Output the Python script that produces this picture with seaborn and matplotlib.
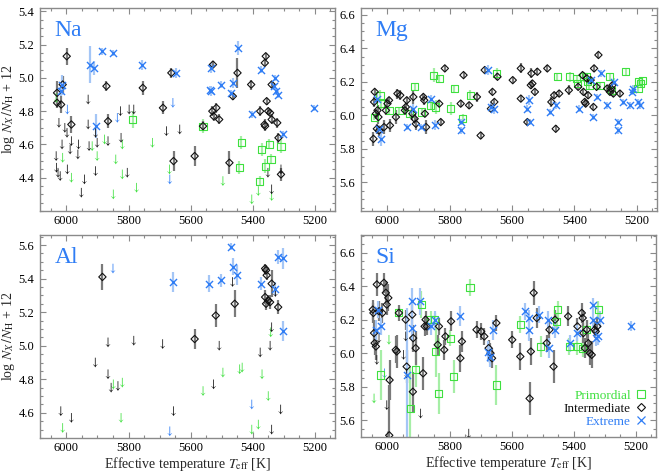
import numpy as np
import pandas as pd
import matplotlib
matplotlib.use("Agg")
import matplotlib.pyplot as plt
from matplotlib.ticker import MultipleLocator
from matplotlib.lines import Line2D
import seaborn as sns

# ---------------- data: (Teff, value, error) for detections, (Teff, value) for upper limits
NA_PRIM = [(5786,4.75,0.05),(5560,4.71,0.04),(5437,4.61,0.04),(5443,4.46,0.04),(5371,4.57,0.04),
           (5378,4.38,0.03),(5347,4.60,0.03),(5360,4.47,0.04),(5341,4.51,0.03),(5309,4.59,0.04)]
NA_PRIM_UL = [(6033,4.88),(6012,4.52),(5984,4.40),(5917,4.59),(5901,4.53),(5877,4.63),(5849,4.30),
              (5841,4.51),(5820,4.42),(5820,4.60),(5774,4.34),(5723,4.61),(5668,4.45),(5496,4.38),
              (5403,4.27),(5382,4.32),(5339,4.29)]
NA_INT = [(5999,5.13,0.05),(6030,4.91,0.07),(6017,4.84,0.05),(6012,4.96,0.05),(5984,4.72,0.05),
          (5871,4.95,0.03),(5866,4.74,0.04),(5754,4.94,0.04),(5689,4.82,0.04),(5662,5.03,0.03),
          (5655,4.50,0.06),(5587,4.53,0.06),(5560,4.71,0.03),(5528,5.08,0.02),(5530,4.80,0.03),
          (5526,4.77,0.03),(5517,4.82,0.03),(5508,4.75,0.03),(5464,4.89,0.02),(5449,5.03,0.09),
          (5475,4.49,0.07),(5405,4.96,0.03),(5376,4.80,0.03),(5362,4.72,0.03),(5360,4.71,0.03),
          (5361,5.09,0.02),(5358,5.13,0.02),(5355,4.86,0.02),(5350,4.80,0.02),(5344,4.79,0.02),
          (5339,4.75,0.03),(5339,4.96,0.02),(5321,4.73,0.03),(5317,4.64,0.03),(5309,4.42,0.04),
          (6030,4.85,0.03)]
NA_INT_UL = [(6033,4.53),(6032,4.46),(6027,4.43),(6020,4.41),(6024,4.73),(6014,4.60),(6005,4.70),
             (5998,4.67),(5988,4.57),(5984,4.62),(5963,4.54),(5961,4.60),(5997,4.45),(5942,4.39),
             (5952,4.31),(5930,4.87),(5930,4.72),(5927,4.59),(5906,4.67),(5906,4.44),(5901,4.61),
             (5866,4.62),(5826,4.80),(5824,4.64),(5804,4.43),(5798,4.81),(5783,4.81),(5678,4.68),
             (5635,4.69),(5351,4.43),(5339,4.33),(5309,4.45)]
NA_EXT = [(6013,4.96,0.06),(5924,5.08,0.11),(5911,5.06,0.04),(5884,5.16,0.02),(5849,5.15,0.02),
          (5756,5.08,0.03),(5647,5.03,0.03),(5906,4.71,0.07),(5535,5.06,0.03),(5539,4.93,0.02),
          (5533,4.92,0.03),(5503,4.96,0.02),(5465,4.97,0.03),(5471,4.91,0.02),(5448,5.18,0.04),
          (5403,4.78,0.02),(5374,5.05,0.02),(5327,5.00,0.02),(5330,4.95,0.02),(5325,4.92,0.02),
          (5318,4.90,0.02),(5304,4.66,0.02),(5202,4.82,0.02),(6018,4.92,0.03)]
NA_EXT_UL = [(5997,4.81),(5836,4.76),(5657,4.85),(5667,4.39)]

MG_PRIM = [(6043,5.99,0.02),(6024,6.12,0.03),(6021,6.07,0.03),(5995,6.03,0.02),(5963,6.03,0.02),
           (5928,6.01,0.02),(5913,6.17,0.02),(5890,6.02,0.02),(5861,6.06,0.03),(5852,6.24,0.04),
           (5845,6.05,0.04),(5834,6.22,0.02),(5797,6.04,0.04),(5786,6.16,0.02),(5759,5.98,0.03),
           (5734,6.12,0.03),(5649,6.25,0.03),(5455,6.23,0.02),(5415,6.23,0.03),(5393,6.22,0.02),
           (5389,6.19,0.02),(5370,6.23,0.03),(5361,6.23,0.02),(5357,6.20,0.02),(5353,6.18,0.02),
           (5318,6.18,0.02),(5286,6.23,0.02),(5282,6.15,0.02),(5235,6.26,0.02),(5196,6.16,0.02),
           (5193,6.20,0.02),(5187,6.19,0.02),(5182,6.21,0.02)]
MG_INT = [(6045,5.86,0.04),(6043,6.08,0.03),(6041,6.14,0.02),(6037,6.01,0.03),(6034,5.92,0.03),
          (6032,6.03,0.03),(6027,5.91,0.03),(6029,5.99,0.04),(6011,5.93,0.04),(6005,6.03,0.03),
          (6000,6.07,0.03),(5995,6.09,0.02),(5992,5.94,0.04),(5973,5.99,0.04),(5968,6.13,0.03),
          (5959,6.12,0.03),(5944,6.03,0.03),(5941,6.05,0.03),(5938,6.09,0.02),(5920,6.01,0.04),
          (5917,6.11,0.04),(5913,5.98,0.03),(5909,5.95,0.04),(5885,6.11,0.02),(5882,6.09,0.03),
          (5880,6.01,0.02),(5876,5.93,0.04),(5834,6.07,0.02),(5829,5.96,0.02),(5816,6.28,0.02),
          (5765,6.07,0.02),(5756,6.24,0.02),(5738,6.06,0.02),(5713,6.11,0.03),(5701,5.88,0.02),
          (5688,6.27,0.02),(5663,6.14,0.02),(5668,6.04,0.02),(5657,6.08,0.02),(5647,6.23,0.02),
          (5598,6.21,0.02),(5572,6.28,0.03),(5572,6.10,0.02),(5551,5.96,0.02),(5540,6.18,0.02),
          (5538,6.25,0.03),(5535,6.19,0.02),(5527,6.14,0.02),(5519,6.26,0.02),(5487,6.28,0.02),
          (5474,6.08,0.03),(5465,6.12,0.02),(5460,5.92,0.02),(5449,6.13,0.02),(5418,6.15,0.03),
          (5388,6.17,0.02),(5374,6.24,0.02),(5371,6.14,0.02),(5367,6.08,0.02),(5364,6.07,0.02),
          (5360,6.22,0.02),(5356,6.12,0.02),(5348,6.21,0.02),(5339,6.05,0.02),(5337,6.28,0.02),
          (5329,6.17,0.02),(5323,6.36,0.02),(5295,6.16,0.02),(5286,6.14,0.02),(5282,6.16,0.02),
          (5278,6.18,0.02),(5275,6.13,0.02),(5254,6.13,0.02)]
MG_EXT = [(6034,6.10,0.03),(6027,5.92,0.02),(6021,5.86,0.04),(5936,5.93,0.02),(5917,6.04,0.03),
          (5893,5.93,0.02),(5861,6.10,0.02),(5848,5.94,0.03),(5765,5.96,0.02),(5763,5.91,0.02),
          (5679,6.27,0.03),(5668,6.05,0.03),(5657,6.04,0.03),(5551,6.04,0.02),(5545,6.09,0.03),
          (5542,5.96,0.02),(5480,6.02,0.02),(5459,6.06,0.02),(5385,6.04,0.02),(5348,6.21,0.02),
          (5339,5.99,0.02),(5316,6.25,0.02),(5329,6.11,0.02),(5297,6.06,0.02),(5272,6.20,0.02),
          (5261,5.91,0.02),(5261,5.96,0.02),(5245,6.08,0.02),(5223,6.06,0.02),(5215,6.14,0.02),
          (5212,6.16,0.02),(5196,6.08,0.02),(5189,6.06,0.02)]

AL_PRIM_UL = [(6012,4.51),(5849,4.77),(5820,4.78),(5824,4.57),(5560,4.73),(5496,4.84),(5442,4.86),
              (5434,4.87),(5370,4.83),(5350,4.70),(5342,5.08),(5382,4.53),(5403,4.50)]
AL_INT = [(5884,5.41,0.08),(5587,5.04,0.06),(5519,5.18,0.07),(5458,5.25,0.08),(5360,5.46,0.03),
          (5357,5.45,0.03),(5355,5.42,0.03),(5350,5.27,0.03),(5360,5.29,0.04),(5357,5.25,0.04),
          (5344,5.26,0.04),(5339,5.37,0.08),(5318,5.23,0.04)]
AL_INT_UL = [(6018,4.61),(5984,4.57),(5907,4.90),(5866,5.02),(5866,4.83),(5856,4.75),(5834,4.76),
             (5783,5.03),(5690,5.01),(5655,4.61),(5526,4.77),(5508,5.00),(5465,5.38),(5376,4.96),
             (5344,5.00),(5339,5.11),(5327,5.32),(5310,4.62),(5339,4.50)]
AL_EXT = [(5470,5.59,0.02),(5658,5.38,0.06),(5542,5.37,0.05),(5502,5.39,0.04),(5465,5.47,0.05),
          (5449,5.42,0.06),(5374,5.37,0.04),(5327,5.34,0.04),(5318,5.53,0.04),(5302,5.52,0.06),
          (5304,5.09,0.06)]
AL_EXT_UL = [(5850,5.46),(5667,4.49),(5403,4.65)]

SI_PRIM = [(5963,6.24,0.03),(6021,5.87,0.15),(5927,5.67,0.25),(5909,5.90,0.10),(5891,6.29,0.08),
           (5861,6.20,0.05),(5848,6.20,0.04),(5845,6.01,0.15),(5834,5.76,0.12),(5797,6.09,0.05),
           (5786,5.86,0.10),(5734,6.39,0.05),(5649,5.81,0.12),(5572,6.17,0.05),(5506,6.04,0.06),
           (5451,6.26,0.05),(5455,6.19,0.05),(5415,6.04,0.05),(5388,6.04,0.05),(5371,6.03,0.05),
           (5358,6.14,0.06),(5321,6.26,0.05)]
SI_PRIM_UL = [(6043,5.73),(5995,6.08),(5834,6.06)]
SI_INT = [(6047,6.26,0.06),(6045,6.24,0.06),(6043,6.12,0.08),(6041,6.06,0.07),(6037,6.04,0.08),
          (6034,6.41,0.07),(6027,6.25,0.06),(6016,6.24,0.06),(6011,6.42,0.06),(6005,6.36,0.07),
          (6002,6.29,0.06),(5997,6.33,0.08),(5993,5.84,0.12),(5994,5.51,0.30),(5973,6.02,0.08),
          (5970,6.01,0.10),(5963,6.24,0.05),(5941,6.20,0.06),(5938,5.92,0.10),(5920,6.23,0.08),
          (5917,6.09,0.08),(5918,5.77,0.12),(5909,6.03,0.10),(5885,5.88,0.10),(5880,6.16,0.06),
          (5877,6.20,0.05),(5873,6.16,0.05),(5834,6.16,0.05),(5838,6.05,0.06),(5813,6.10,0.05),
          (5817,6.02,0.06),(5795,6.19,0.06),(5765,5.97,0.08),(5760,6.07,0.06),(5713,6.14,0.05),
          (5698,6.13,0.05),(5688,6.10,0.05),(5674,6.03,0.05),(5668,6.00,0.06),(5663,5.97,0.06),
          (5649,6.18,0.05),(5598,6.08,0.05),(5572,5.98,0.08),(5542,5.73,0.10),(5538,6.01,0.08),
          (5529,6.36,0.07),(5519,6.21,0.06),(5487,6.06,0.05),(5478,6.14,0.06),(5465,5.92,0.10),
          (5460,6.20,0.06),(5418,6.22,0.06),(5374,6.24,0.06),(5388,6.16,0.05),(5371,6.21,0.05),
          (5369,6.12,0.06),(5364,6.03,0.06),(5358,6.14,0.06),(5353,6.06,0.07),(5348,6.00,0.07),
          (5342,5.99,0.08),(5332,6.14,0.05),(5329,6.13,0.05),(5324,6.16,0.05)]
SI_INT_UL = [(6034,5.96),(6027,6.09),(6002,5.69),(5948,5.99),(5941,6.10),(5893,5.64),(5738,5.52),
             (5938,5.88)]
SI_EXT = [(6037,6.14,0.06),(6030,6.26,0.05),(6021,6.16,0.05),(5936,5.87,0.40),(5922,6.31,0.08),
          (5920,6.15,0.08),(5895,6.31,0.08),(5861,6.16,0.05),(5848,6.20,0.05),(5767,6.22,0.06),
          (5660,6.14,0.06),(5677,6.01,0.06),(5668,5.98,0.06),(5556,6.25,0.05),(5545,6.21,0.05),
          (5545,6.14,0.07),(5513,6.23,0.05),(5484,6.20,0.05),(5478,6.03,0.06),(5460,6.14,0.05),
          (5413,6.06,0.05),(5388,6.12,0.05),(5337,6.20,0.05),(5337,6.29,0.04),(5329,6.09,0.05),
          (5322,6.10,0.05),(5314,6.20,0.05),(5214,6.16,0.03)]
SI_EXT_UL = [(6009,5.88)]

ELEMENTS = ["Na", "Mg", "Al", "Si"]
YLIMS = [(4.2, 5.42), (5.43, 6.64), (4.45, 5.66), (5.5, 6.705)]
YTICKS = [[4.4, 4.6, 4.8, 5.0, 5.2, 5.4], [5.6, 5.8, 6.0, 6.2, 6.4, 6.6],
          [4.6, 4.8, 5.0, 5.2, 5.4, 5.6], [5.6, 5.8, 6.0, 6.2, 6.4, 6.6]]
XTICKS = [6000, 5800, 5600, 5400, 5200]
GROUPS = ["Primordial", "Intermediate", "Extreme"]

PANEL_DATA = {
    "Na": {"Primordial": (NA_PRIM, NA_PRIM_UL), "Intermediate": (NA_INT, NA_INT_UL), "Extreme": (NA_EXT, NA_EXT_UL)},
    "Mg": {"Primordial": (MG_PRIM, []), "Intermediate": (MG_INT, []), "Extreme": (MG_EXT, [])},
    "Al": {"Primordial": ([], AL_PRIM_UL), "Intermediate": (AL_INT, AL_INT_UL), "Extreme": (AL_EXT, AL_EXT_UL)},
    "Si": {"Primordial": (SI_PRIM, SI_PRIM_UL), "Intermediate": (SI_INT, SI_INT_UL), "Extreme": (SI_EXT, SI_EXT_UL)},
}

# ---------------- style
GREEN = "#3fe03f"
BLACK = "#111111"
BLUE = "#2f7df5"
COLORS = {"Primordial": GREEN, "Intermediate": BLACK, "Extreme": BLUE}
ERRCOL = {"Primordial": "#a6eea6", "Intermediate": "#7a7a7a", "Extreme": "#a4c6f6"}
MARK = {"Primordial": "s", "Intermediate": "D", "Extreme": "x"}
MSIZE = {"Primordial": 26, "Intermediate": 14, "Extreme": 26}
FRAME = "#8a8a8a"

sns.set_style("ticks")
plt.rcParams["font.family"] = ["Liberation Serif", "DejaVu Serif"]
plt.rcParams["mathtext.fontset"] = "stix"
plt.rcParams["font.size"] = 9

fig = plt.figure(figsize=(6.68, 4.72), dpi=100)
W, H = 668.0, 472.0
boxes = [(40, 8, 335, 211), (361, 8, 657, 211), (40, 235, 335, 438), (361, 235, 656, 437)]

for i, el in enumerate(ELEMENTS):
    l, t, r, b = boxes[i]
    ax = fig.add_axes([l / W, 1 - b / H, (r - l) / W, (b - t) / H])
    for g in GROUPS:
        det, ul = PANEL_DATA[el][g]
        if det:
            df = pd.DataFrame(det, columns=["teff", "val", "err"])
            ax.errorbar(df["teff"], df["val"], yerr=df["err"], fmt="none",
                        ecolor=ERRCOL[g], elinewidth=1.6, capsize=0, zorder=2)
        if ul:
            du = pd.DataFrame(ul, columns=["teff", "val"])
            sns.scatterplot(data=du, x="teff", y="val", ax=ax, marker=r"$\downarrow$",
                            s=48, color=COLORS[g], edgecolor="none", linewidth=0,
                            legend=False, zorder=3)
    for g in GROUPS:
        det, ul = PANEL_DATA[el][g]
        if det:
            df = pd.DataFrame(det, columns=["teff", "val", "err"])
            if MARK[g] == "x":
                sns.scatterplot(data=df, x="teff", y="val", ax=ax, marker="x", s=MSIZE[g],
                                color=COLORS[g], linewidth=1.0, legend=False, zorder=4)
            else:
                sns.scatterplot(data=df, x="teff", y="val", ax=ax, marker=MARK[g], s=MSIZE[g],
                                color=COLORS[g], facecolor="none", edgecolor=COLORS[g],
                                linewidth=0.8, legend=False, zorder=4)

    ax.set_xlim(6085, 5135)
    ax.set_ylim(*YLIMS[i])
    ax.set_xticks(XTICKS)
    ax.set_xticklabels([str(x) for x in XTICKS])
    ax.set_yticks(YTICKS[i])
    ax.set_yticklabels([f"{v:.1f}" for v in YTICKS[i]])
    ax.xaxis.set_minor_locator(MultipleLocator(50))
    ax.yaxis.set_minor_locator(MultipleLocator(0.05))
    ax.tick_params(which="both", direction="in", top=True, right=True, color=FRAME,
                   labelsize=9, labelcolor="black", width=0.8)
    ax.tick_params(which="major", length=4.5)
    ax.tick_params(which="minor", length=2.2)
    ax.tick_params(axis="x", which="major", pad=3)
    ax.tick_params(axis="y", which="major", pad=4)
    for sp in ax.spines.values():
        sp.set_color(FRAME)
        sp.set_linewidth(1.0)
    ax.set_xlabel("")
    ax.set_ylabel("")
    if i in (0, 2):
        ax.set_ylabel(r"log $N_X\,/N_{\rm H}$ + 12", fontsize=10)
        ax.yaxis.set_label_coords(-0.077, 0.5)
    if i in (2, 3):
        ax.set_xlabel(r"Effective temperature $T_{\rm eff}$ [K]", fontsize=10)
        ax.xaxis.set_label_coords(0.5, -0.083)
    ax.text(0.05, 0.94, el, transform=ax.transAxes, color=BLUE, fontsize=17,
            ha="left", va="top")

    if el == "Si":
        handles = [Line2D([], [], linestyle="none", marker="s", markersize=5.5,
                          markerfacecolor="none", markeredgecolor=GREEN, markeredgewidth=0.8),
                   Line2D([], [], linestyle="none", marker="D", markersize=4,
                          markerfacecolor="none", markeredgecolor=BLACK, markeredgewidth=0.8),
                   Line2D([], [], linestyle="none", marker="x", markersize=5.5,
                          color=BLUE, markeredgewidth=0.9)]
        ax.legend(handles, GROUPS, loc="lower right", frameon=False, markerfirst=False,
                  labelcolor=[GREEN, BLACK, BLUE], fontsize=9.5, handlelength=0.8,
                  handletextpad=0.4, labelspacing=0.05, borderaxespad=0.3)

fig.savefig("out.png", dpi=100)
